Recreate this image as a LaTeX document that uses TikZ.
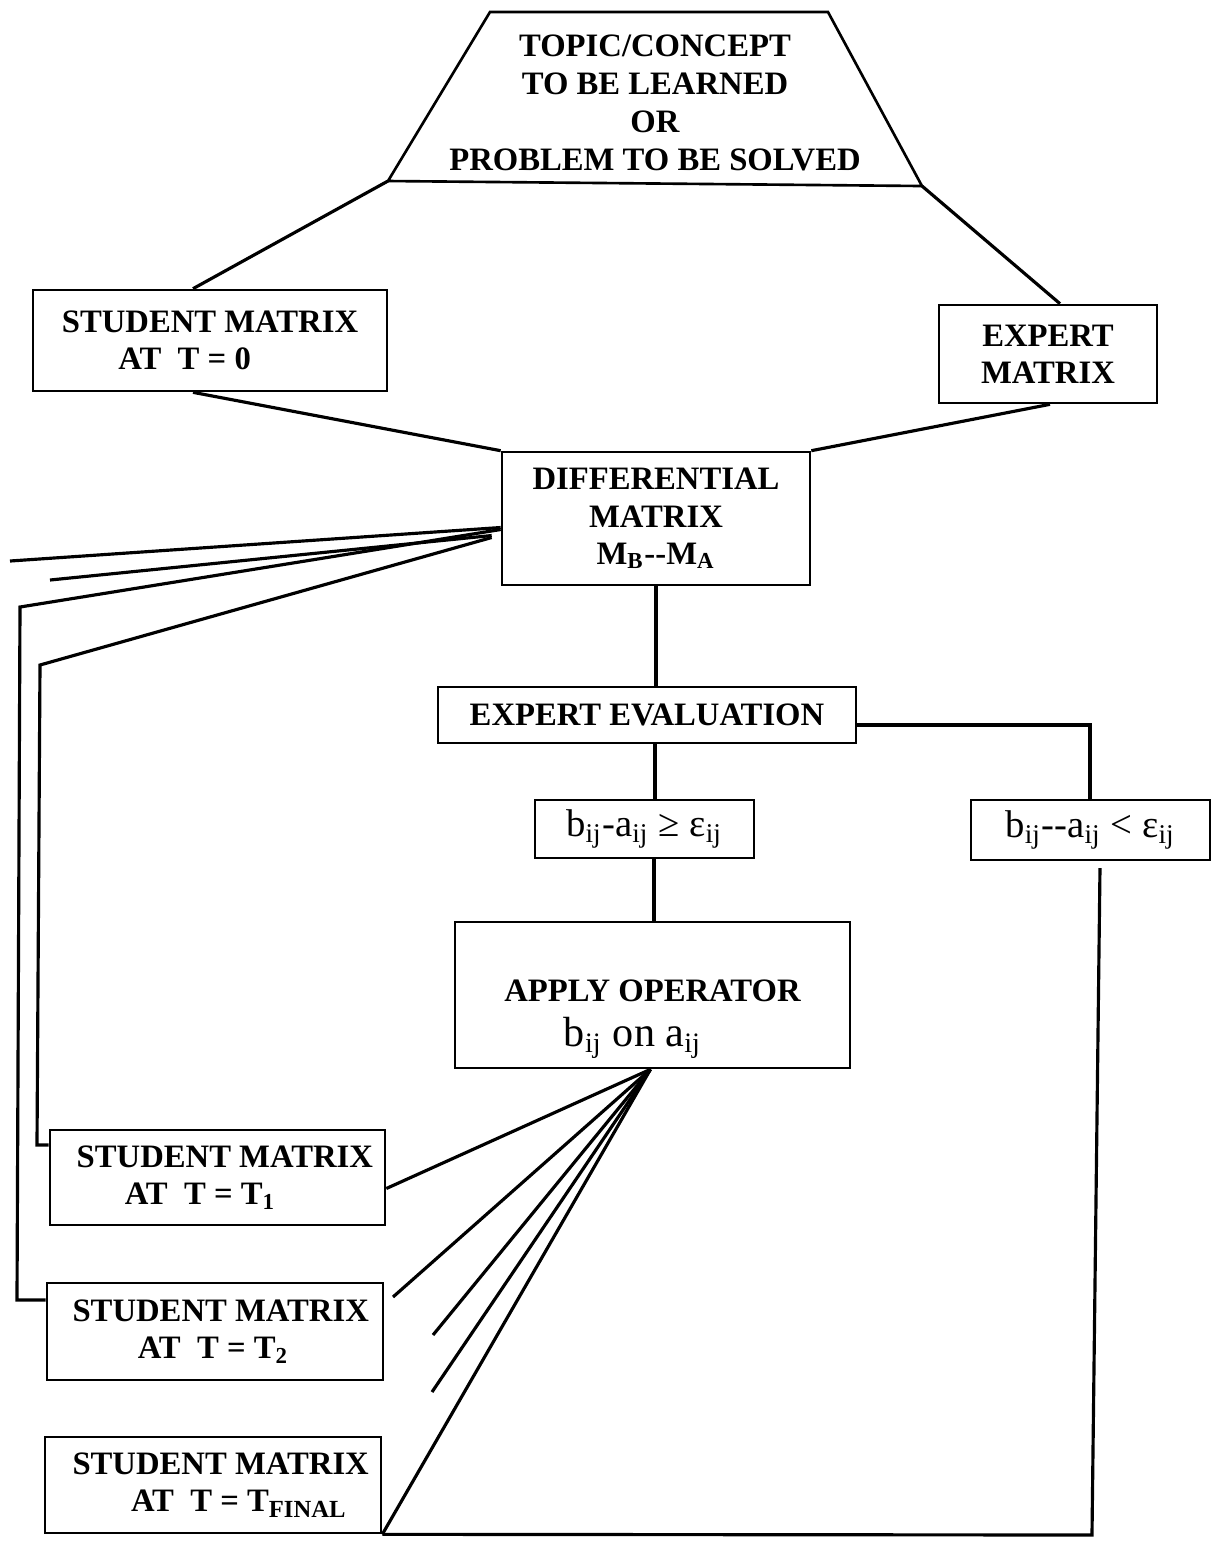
\documentclass[tikz,border=0pt]{standalone}
\usepackage{fontspec}
\setmainfont{Liberation Serif}
\usetikzlibrary{shapes.geometric}

\begin{document}
\begin{tikzpicture}[
  box/.style={draw, line width=0.75pt, align=center, inner sep=0pt, font=\bfseries\fontsize{9.3}{10.6}\selectfont},
  condbox/.style={box, font=\fontsize{11}{12}\selectfont},
  link/.style={line width=0.9pt}
]
\useasboundingbox (0,0) rectangle (12.19,-15.43);

% topic trapezium
\coordinate (trapTL) at (4.90,-0.12);
\coordinate (trapTR) at (8.28,-0.12);
\coordinate (trapBR) at (9.22,-1.86);
\coordinate (trapBL) at (3.88,-1.81);
\draw[line width=0.75pt] (trapTL) -- (trapTR) -- (trapBR) -- (trapBL) -- cycle;
\node[align=center, font=\bfseries\fontsize{9.3}{10.8}\selectfont] (topic) at (6.55,-1.03) {TOPIC/CONCEPT\\TO BE LEARNED\\OR\\PROBLEM TO BE SOLVED};

\node[box, minimum width=3.54cm, minimum height=1.01cm] (st0) at (2.10,-3.405) {STUDENT MATRIX\\AT\ \ T = 0\hspace*{1.55em}};
\node[box, minimum width=2.18cm, minimum height=0.98cm] (expert) at (10.48,-3.54) {EXPERT\\MATRIX};
\node[box, minimum width=3.08cm, minimum height=1.33cm] (diff) at (6.56,-5.185) {DIFFERENTIAL\\MATRIX\\M\textsubscript{B}-{}-M\textsubscript{A}};
\node[box, minimum width=4.18cm, minimum height=0.56cm] (eval) at (6.47,-7.15) {EXPERT EVALUATION};
\node[condbox, minimum width=2.19cm, minimum height=0.58cm] (ge) at (6.445,-8.29) {b\textsubscript{ij}-a\textsubscript{ij} ≥ ε\textsubscript{ij}};
\node[condbox, minimum width=2.39cm, minimum height=0.60cm] (lt) at (10.905,-8.30) {b\textsubscript{ij}-{}-a\textsubscript{ij} < ε\textsubscript{ij}};
\node[box, minimum width=3.95cm, minimum height=1.46cm] (apply) at (6.525,-9.95) {\rule{0pt}{20pt}APPLY OPERATOR\\[2pt]{\mdseries\fontsize{12}{13}\selectfont b\textsubscript{ij} on a\textsubscript{ij}}\hspace*{1.2em}};

\node[box, minimum width=3.35cm, minimum height=0.95cm] (st1) at (2.175,-11.775) {\hspace*{0.45em}STUDENT MATRIX\\AT\ \ T = T\textsubscript{1}\hspace*{1.05em}};
\node[box, minimum width=3.36cm, minimum height=0.97cm] (st2) at (2.15,-13.315) {\hspace*{0.35em}STUDENT MATRIX\\AT\ \ T = T\textsubscript{2}\hspace*{0.1em}};
\node[box, minimum width=3.36cm, minimum height=0.96cm] (stf) at (2.13,-14.85) {\hspace*{0.47em}STUDENT MATRIX\\\hspace*{1.6em}AT\ \ T = T\textsubscript{\scriptsize FINAL}};

% free ends
\coordinate (loose1) at (0.10,-5.61);
\coordinate (loose2) at (0.50,-5.80);
\coordinate (kink2) at (0.20,-6.07);
\coordinate (kink1) at (0.40,-6.65);
\coordinate (fan2) at (3.93,-12.97);
\coordinate (fan3) at (4.33,-13.35);
\coordinate (fan4) at (4.32,-13.92);
\coordinate (gapend) at (11.00,-8.68);
\coordinate (corner) at (10.92,-15.35);

% upper part
\draw[link] (trapBL) -- (1.93,0 |- st0.north);
\draw[link] (trapBR) -- (10.60,0 |- expert.north);
\draw[link] (1.93,0 |- st0.south) -- (diff.north west);
\draw[link] (10.50,0 |- expert.south) -- (diff.north east);
\draw[link] (diff.south) -- (diff.south |- eval.north);
\draw[link] (6.55,0 |- eval.south) -- (6.55,0 |- ge.north);
\draw[link] ([yshift=-1mm]eval.east) -| (10.90,0 |- lt.north);
\draw[link] (6.54,0 |- ge.south) -- (6.54,0 |- apply.north);

% feedback to the left
\draw[link] ([yshift=-0.9mm]diff.west) -- (loose1);
\draw[link] ([xshift=-0.9mm,yshift=-1.7mm]diff.west) -- (loose2);
\draw[link] ([yshift=-1.1mm]diff.west) -- (kink2) -- (0.17,-13.0) -- ([yshift=3.15mm]st2.west);
\draw[link] ([xshift=-0.9mm,yshift=-1.9mm]diff.west) -- (kink1) -- (0.37,-11.45) -- ([yshift=3.25mm]st1.west);

% operator fan
\draw[link] ([xshift=-0.2mm]apply.south) -- ([yshift=-1.1mm]st1.east);
\draw[link] ([xshift=-0.2mm]apply.south) -- (fan2);
\draw[link] ([xshift=-0.2mm]apply.south) -- (fan3);
\draw[link] ([xshift=-0.2mm]apply.south) -- (fan4);
\draw[link] ([xshift=-0.2mm]apply.south) -- (stf.south east);

% right branch back round the bottom
\draw[link] (gapend) -- (corner) -- (stf.south east);

\end{tikzpicture}
\end{document}
